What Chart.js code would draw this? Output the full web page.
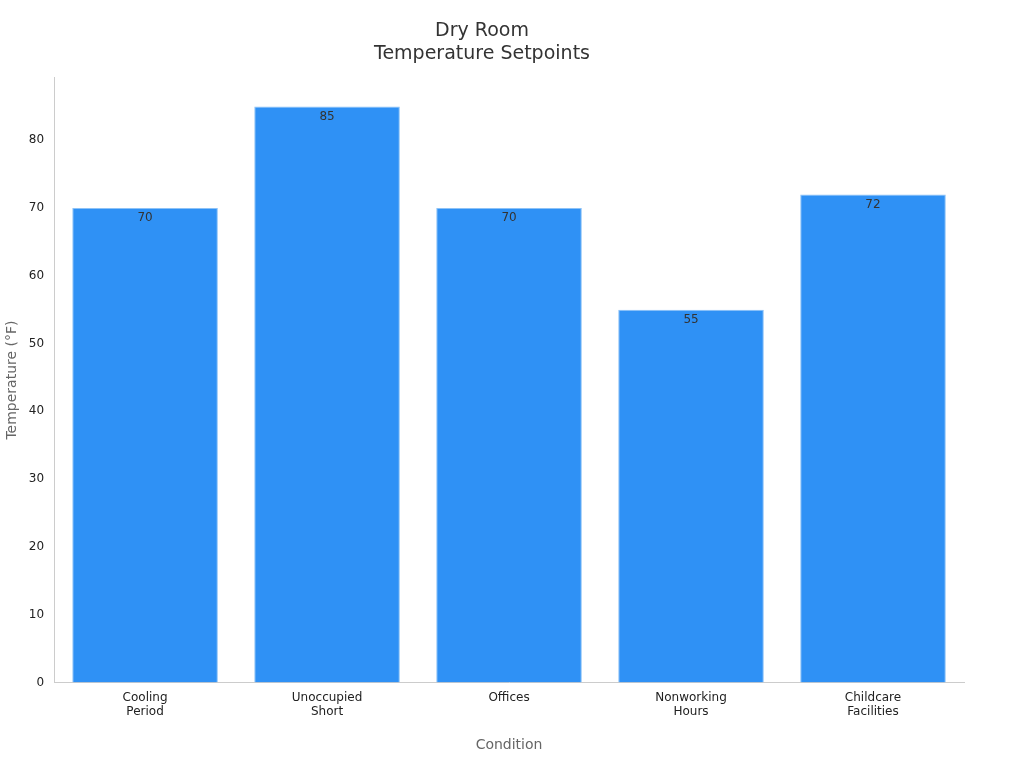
<!DOCTYPE html>
<html>
<head>
<meta charset="utf-8">
<script src="https://cdn.jsdelivr.net/npm/chart.js@4"></script>
<style>
  body { margin: 0; background: #fff; }
  #wrap { width: 1024px; height: 768px; }
</style>
</head>
<body>
<div id="wrap"><canvas id="chart"></canvas></div>
<script>
var categories = [["Cooling", "Period"], ["Unoccupied", "Short"], "Offices", ["Nonworking", "Hours"], ["Childcare", "Facilities"]];
var temps = [70, 85, 70, 55, 72];
var yTicks = [0, 10, 20, 30, 40, 50, 60, 70, 80];

// value labels just under each bar top
var barLabels = {
    id: "barLabels",
    afterDatasetsDraw: function (chart) {
        var ctx = chart.ctx;
        var meta = chart.getDatasetMeta(0);
        ctx.save();
        ctx.font = "12px 'DejaVu Sans'";
        ctx.fillStyle = "#333";
        ctx.textAlign = "center";
        ctx.textBaseline = "top";
        meta.data.forEach(function (bar, i) {
            ctx.fillText(temps[i], bar.x, bar.y + 4);
        });
        ctx.restore();
    },
};

new Chart(document.getElementById("chart").getContext("2d"), {
    type: "bar",
    data: {
        labels: categories,
        datasets: [
            {
                label: "Temperature",
                data: temps,
                backgroundColor: "#2f91f5",
                borderColor: "#8cc2f7",
                borderWidth: 1,
                barPercentage: 0.8,
                categoryPercentage: 1,
            },
        ],
    },
    options: {
        responsive: true,
        maintainAspectRatio: false,
        animation: false,
        layout: { padding: { left: 0, right: 60, top: 10, bottom: 10 } },
        plugins: {
            legend: { display: false },
            tooltip: { enabled: false },
            title: {
                display: true,
                text: ["Dry Room", "Temperature Setpoints"],
                color: "#333",
                font: { family: "DejaVu Sans", size: 19, weight: "normal" },
                padding: { top: 10, bottom: 12 },
            },
        },
        scales: {
            x: {
                grid: { display: false, drawTicks: false },
                border: { color: "#ccc" },
                ticks: { color: "#222", font: { family: "DejaVu Sans", size: 12 }, padding: 8 },
                title: {
                    display: true,
                    text: "Condition",
                    color: "#666",
                    font: { family: "DejaVu Sans", size: 14 },
                    padding: { top: 10 },
                },
            },
            y: {
                min: 0,
                max: 89.25,
                afterBuildTicks: function (axis) {
                    axis.ticks = yTicks.map(function (v) { return { value: v }; });
                },
                grid: { display: false, drawTicks: true, tickLength: 6, color: "#999" },
                border: { color: "#ccc" },
                ticks: { color: "#222", font: { family: "DejaVu Sans", size: 12 }, padding: 4 },
                title: {
                    display: true,
                    text: "Temperature (°F)",
                    color: "#666",
                    font: { family: "DejaVu Sans", size: 14 },
                },
            },
        },
    },
    plugins: [barLabels],
});
</script>
</body>
</html>
